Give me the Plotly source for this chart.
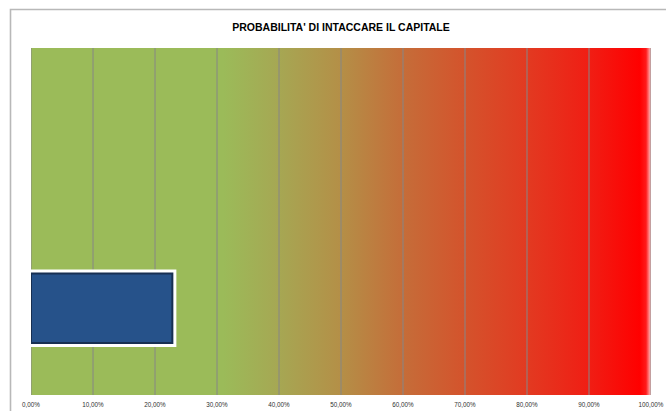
import plotly.graph_objects as go

# --- data ---------------------------------------------------------------
categories = ["Capitale", " "]          # bottom row holds the bar, top row is empty
prob_values = [0.228]                   # probabilità di intaccare il capitale
x_ticks = [0.0, 0.1, 0.2, 0.3, 0.4, 0.5, 0.6, 0.7, 0.8, 0.9, 1.0]
title_text = "PROBABILITA' DI INTACCARE IL CAPITALE"

# green -> red background scale along the probability axis
gradient_scale = [
    [0.00, "#9BBB59"],
    [0.31, "#9BBB59"],
    [0.40, "#A6A753"],
    [0.50, "#B48F47"],
    [0.60, "#C56D39"],
    [0.70, "#D4532C"],
    [0.80, "#E23A21"],
    [0.90, "#F01E14"],
    [0.982, "#FF0000"],
    [0.992, "#FF1A1A"],
    [1.00, "#FFC8C8"],
]

x_lo, x_hi = x_ticks[0], x_ticks[-1]

fig = go.Figure()

# background band with horizontal colour gradient
fig.add_trace(go.Scatter(
    x=[x_lo, x_hi, x_hi, x_lo, x_lo],
    y=[0, 0, 1, 1, 0],
    mode="none",
    fill="toself",
    fillgradient=dict(type="horizontal", colorscale=gradient_scale),
    hoverinfo="skip",
    showlegend=False,
    xaxis="x", yaxis="y",
))

# vertical grid lines drawn over the gradient
gx, gy = [], []
for t in x_ticks:
    gx += [t, t, None]
    gy += [0, 1, None]
fig.add_trace(go.Scatter(
    x=gx, y=gy, mode="lines",
    line=dict(color="#868686", width=1),
    hoverinfo="skip", showlegend=False,
    xaxis="x", yaxis="y",
))

# bar on an overlaid subplot so it sits above the grid lines
bar_y = categories[:len(prob_values)]
fig.add_trace(go.Bar(
    x=prob_values, y=bar_y, orientation="h", width=0.40,
    marker=dict(color="#FFFFFF", line=dict(color="#FFFFFF", width=8)),
    hoverinfo="skip", showlegend=False,
    xaxis="x2", yaxis="y2",
))
fig.add_trace(go.Bar(
    x=prob_values, y=bar_y, orientation="h", width=0.40,
    marker=dict(color="#26528A", line=dict(color="#172F52", width=2)),
    showlegend=False,
    xaxis="x2", yaxis="y2",
))

# chart frame (outer border, running off the right and bottom edges)
L, R, T, B, W, H = 31, 15, 48, 16, 666, 411
pw, ph = W - L - R, H - T - B
fig.add_shape(
    type="rect", xref="paper", yref="paper",
    x0=(10.5 - L) / pw, x1=(W + 30 - L) / pw,
    y0=-(60) / ph, y1=(H - B - 9.5) / ph,
    line=dict(color="#B8B8B8", width=1.6),
    fillcolor="rgba(0,0,0,0)", layer="below",
)

fig.update_layout(
    width=W, height=H,
    margin=dict(l=L, r=R, t=T, b=B),
    paper_bgcolor="#FFFFFF",
    plot_bgcolor="#FFFFFF",
    separators=",.",
    barmode="overlay",
    showlegend=False,
    title=dict(
        text=title_text, x=0.5, xref="paper", xanchor="center",
        y=(H - 27) / H, yref="container", yanchor="middle",
        font=dict(family="Liberation Sans, Arial, sans-serif", size=10.5, color="#000000", weight="bold"),
    ),
    xaxis=dict(
        range=[x_lo, x_hi], tickvals=x_ticks, tickformat=".2%",
        showgrid=False, zeroline=False, showline=False, ticks="",
        ticklabelstandoff=5,
        automargin=False, fixedrange=True,
        tickfont=dict(family="Liberation Sans, Arial, sans-serif", size=6.3, color="#303030"),
    ),
    yaxis=dict(
        range=[0, 1], visible=False, automargin=False, fixedrange=True,
    ),
    xaxis2=dict(
        range=[x_lo, x_hi], overlaying="x", visible=False, fixedrange=True,
    ),
    yaxis2=dict(
        type="category", categoryarray=categories, categoryorder="array",
        range=[-0.5, 1.5], overlaying="y", visible=False, fixedrange=True,
    ),
)

fig.write_html("out.html")
